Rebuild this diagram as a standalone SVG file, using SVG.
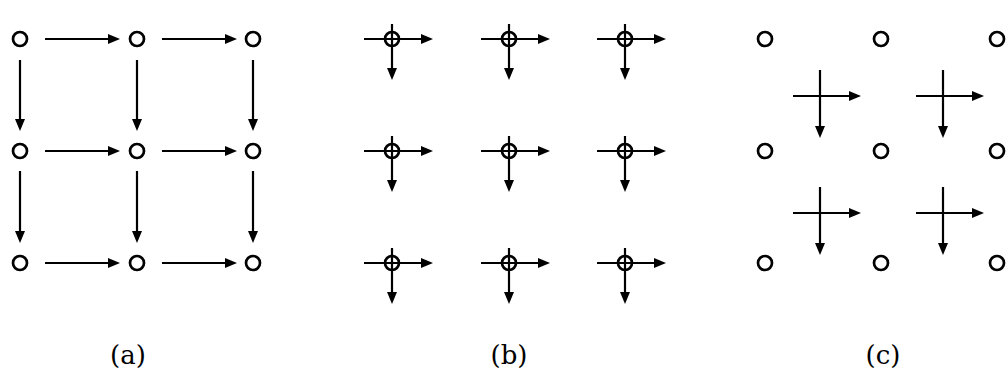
<svg xmlns="http://www.w3.org/2000/svg" width="1008" height="377" viewBox="0 0 1008 377">
<defs>
<marker id="ah" markerUnits="userSpaceOnUse" markerWidth="13" markerHeight="11" refX="6" refY="5" orient="auto">
<path d="M0,0 L12,5 L0,10 z" fill="#000"/>
</marker>
<style>
.n{fill:#fff;stroke:#000;stroke-width:2.7}
.o{fill:none;stroke:#000;stroke-width:2.7}
.e{stroke:#000;stroke-width:2.2;fill:none;marker-end:url(#ah)}
.t{font-family:"DejaVu Serif","Liberation Serif",serif;font-size:26px;text-anchor:middle;fill:#000}
</style>
</defs>
<rect width="1008" height="377" fill="#fff"/>
<g id="connectors">
<path class="e" d="M45,39 H114"/><path class="e" d="M162,39 H231"/>
<path class="e" d="M45,151 H114"/><path class="e" d="M162,151 H231"/>
<path class="e" d="M45,263 H114"/><path class="e" d="M162,263 H231"/>
<path class="e" d="M20,60 V125"/><path class="e" d="M137,60 V125"/><path class="e" d="M253,60 V125"/>
<path class="e" d="M20,171 V237"/><path class="e" d="M137,171 V237"/><path class="e" d="M253,171 V237"/>
<path class="e" d="M364,39 H427"/><path class="e" d="M392,24 V74"/>
<path class="e" d="M481,39 H544"/><path class="e" d="M509,24 V74"/>
<path class="e" d="M597,39 H660"/><path class="e" d="M625,24 V74"/>
<path class="e" d="M364,151 H427"/><path class="e" d="M392,136 V186"/>
<path class="e" d="M481,151 H544"/><path class="e" d="M509,136 V186"/>
<path class="e" d="M597,151 H660"/><path class="e" d="M625,136 V186"/>
<path class="e" d="M364,263 H427"/><path class="e" d="M392,248 V298"/>
<path class="e" d="M481,263 H544"/><path class="e" d="M509,248 V298"/>
<path class="e" d="M597,263 H660"/><path class="e" d="M625,248 V298"/>
<path class="e" d="M793,96 H855"/><path class="e" d="M820,70 V132"/>
<path class="e" d="M916,96 H978"/><path class="e" d="M943,70 V132"/>
<path class="e" d="M793,213 H855"/><path class="e" d="M820,187 V249"/>
<path class="e" d="M916,213 H978"/><path class="e" d="M943,187 V249"/>
</g>
<g id="nodes-a">
<circle class="n" cx="20" cy="39" r="7"/><circle class="n" cx="137" cy="39" r="7"/><circle class="n" cx="253" cy="39" r="7"/>
<circle class="n" cx="20" cy="151" r="7"/><circle class="n" cx="137" cy="151" r="7"/><circle class="n" cx="253" cy="151" r="7"/>
<circle class="n" cx="20" cy="263" r="7"/><circle class="n" cx="137" cy="263" r="7"/><circle class="n" cx="253" cy="263" r="7"/>
</g>
<g id="nodes-b">
<circle class="o" cx="392" cy="39" r="7"/><circle class="o" cx="509" cy="39" r="7"/><circle class="o" cx="625" cy="39" r="7"/>
<circle class="o" cx="392" cy="151" r="7"/><circle class="o" cx="509" cy="151" r="7"/><circle class="o" cx="625" cy="151" r="7"/>
<circle class="o" cx="392" cy="263" r="7"/><circle class="o" cx="509" cy="263" r="7"/><circle class="o" cx="625" cy="263" r="7"/>
</g>
<g id="nodes-c">
<circle class="n" cx="765" cy="39" r="7"/><circle class="n" cx="881" cy="39" r="7"/><circle class="n" cx="997" cy="39" r="7"/>
<circle class="n" cx="765" cy="151" r="7"/><circle class="n" cx="881" cy="151" r="7"/><circle class="n" cx="997" cy="151" r="7"/>
<circle class="n" cx="765" cy="263" r="7"/><circle class="n" cx="881" cy="263" r="7"/><circle class="n" cx="997" cy="263" r="7"/>
</g>
<g id="labels">
<text class="t" x="128" y="364">(a)</text>
<text class="t" x="509" y="364">(b)</text>
<text class="t" x="883" y="364">(c)</text>
</g>
</svg>
